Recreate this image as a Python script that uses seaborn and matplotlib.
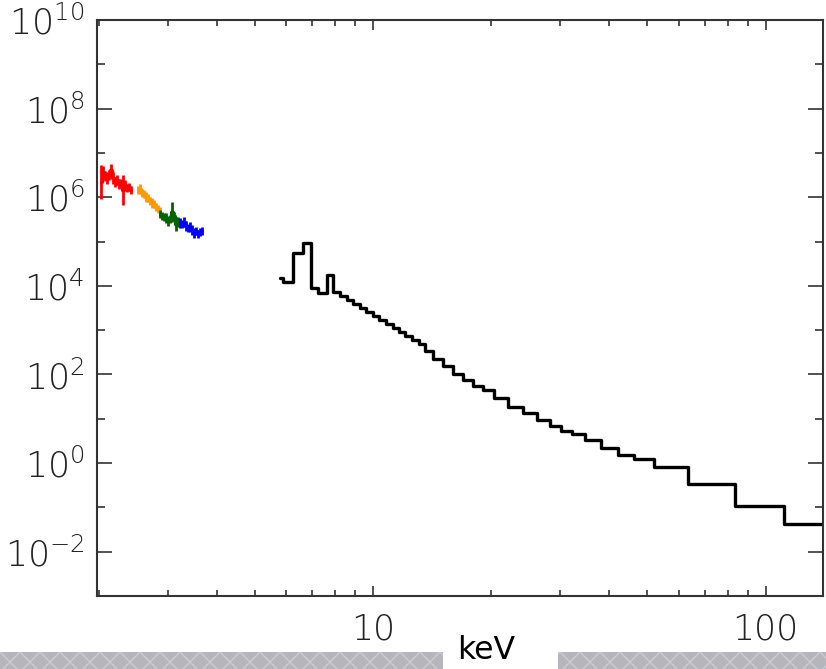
import numpy as np
import pandas as pd
import matplotlib
matplotlib.use("Agg")
import matplotlib.pyplot as plt
import seaborn as sns
from matplotlib import font_manager as fm
from matplotlib.patches import Rectangle
from matplotlib.lines import Line2D
from matplotlib.ticker import FixedLocator, FixedFormatter, NullFormatter

# ---------------- data ----------------
# model / high-energy spectrum drawn as a histogram (bin edges in keV)
hist_edges_kev = [5.79, 5.89, 6.25, 6.63, 6.95, 7.24, 7.63, 7.91, 8.24, 8.58,
                  8.89, 9.27, 9.60, 10.0, 10.36, 10.79, 11.25, 11.65, 12.07, 12.57,
                  13.10, 13.57, 14.22, 15.09, 16.00, 16.97, 17.99, 19.09, 20.36, 22.10,
                  24.14, 26.21, 28.28, 30.17, 32.19, 34.74, 38.16, 42.17, 46.33, 51.81,
                  63.24, 83.35, 111.2, 148.0]
hist_flux = [1.48e4, 1.21e4, 5.43e4, 9.14e4, 8.83e3, 6.81e3, 1.73e4, 7.18e3, 5.83e3, 4.73e3,
             3.85e3, 3.12e3, 2.54e3, 2.06e3, 1.68e3, 1.36e3, 1.11e3, 899, 731, 593,
             482, 335, 221, 154, 102, 74.3, 54.5, 44.3, 29.2, 18.3,
             13.4, 9.32, 6.83, 5.27, 4.51, 3.30, 2.18, 1.51, 1.23, 0.81,
             0.336, 0.107, 0.042]

red_kev = [2.023, 2.047, 2.071, 2.096, 2.121, 2.146, 2.171, 2.197, 2.223, 2.249,
           2.276, 2.303, 2.330, 2.357, 2.385, 2.414]
red_flux = [2.18e6, 3.66e6, 2.98e6, 2.68e6, 3.13e6, 4.06e6, 2.68e6, 2.18e6, 2.42e6, 1.96e6,
            2.07e6, 1.44e6, 1.86e6, 1.60e6, 1.68e6, 1.44e6]
red_err_dex = [0.38, 0.14, 0.11, 0.14, 0.11, 0.14, 0.14, 0.11, 0.11, 0.11,
               0.09, 0.34, 0.11, 0.09, 0.09, 0.09]

orange_kev = [2.515, 2.545, 2.575, 2.605, 2.636, 2.667, 2.698, 2.730, 2.762, 2.795, 2.828, 2.861]
orange_flux = [1.44e6, 1.51e6, 1.23e6, 1.17e6, 1.0e6, 9.49e5, 8.12e5, 7.32e5, 6.95e5, 5.95e5, 5.36e5, 4.83e5]
orange_err_dex = [0.09, 0.11, 0.09, 0.09, 0.11, 0.09, 0.09, 0.11, 0.09, 0.09, 0.09, 0.09]

green_kev = [2.861, 2.895, 2.929, 2.964, 2.999, 3.034, 3.070, 3.106, 3.143, 3.180]
green_flux = [4.14e5, 3.73e5, 3.54e5, 3.36e5, 2.88e5, 3.19e5, 4.59e5, 3.73e5, 2.46e5, 2.73e5]
green_err_dex = [0.09, 0.09, 0.09, 0.11, 0.11, 0.09, 0.22, 0.09, 0.16, 0.11]

blue_kev = [3.218, 3.256, 3.294, 3.333, 3.373, 3.412, 3.453, 3.493, 3.534, 3.576, 3.619, 3.661]
blue_flux = [2.59e5, 2.46e5, 2.73e5, 2.22e5, 2.0e5, 2.11e5, 1.80e5, 1.54e5, 1.71e5, 1.47e5, 1.62e5, 1.71e5]
blue_err_dex = [0.11, 0.09, 0.11, 0.11, 0.09, 0.11, 0.11, 0.11, 0.09, 0.09, 0.09, 0.09]

y_major = [1e-2, 1e0, 1e2, 1e4, 1e6, 1e8, 1e10]
y_major_labels = ["$10^{-2}$", "$10^{0}$", "$10^{2}$", "$10^{4}$", "$10^{6}$", "$10^{8}$", "$10^{10}$"]
y_minor = [1e-1, 1e1, 1e3, 1e5, 1e7, 1e9]
x_major = [10, 100]
x_major_labels = ["10", "100"]
x_minor = [2, 3, 4, 5, 6, 7, 8, 9, 20, 30, 40, 50, 60, 70, 80, 90]
x_label = "keV"

# ---------------- style ----------------
sns.set_theme(style="white")


def pick_light_font():
    for fam in ["DejaVu Sans", "Open Sans", "Roboto", "Lato", "Inter", "Noto Sans"]:
        best = None
        for f in fm.fontManager.ttflist:
            if f.name != fam or f.style != "normal":
                continue
            w = f.weight
            if isinstance(w, str):
                w = fm.weight_dict.get(w, 400)
            if w <= 300 and (best is None or w < best):
                best = w
        if best is not None:
            return fam, best
    return "DejaVu Sans", 400


light_fam, light_w = pick_light_font()
plt.rcParams["font.family"] = ["DejaVu Sans"]
plt.rcParams["mathtext.fontset"] = "custom"
plt.rcParams["mathtext.rm"] = f"{light_fam}:weight={light_w}"
plt.rcParams["mathtext.it"] = f"{light_fam}:weight={light_w}"
plt.rcParams["mathtext.default"] = "rm"

W, H = 826, 669
fig = plt.figure(figsize=(W / 100, H / 100), dpi=100)
fig.patch.set_facecolor("white")
ax = fig.add_axes([97 / W, 1 - 596 / H, (823 - 97) / W, (596 - 20) / H])
ax.set_facecolor("white")

# histogram (steps)
step_df = pd.DataFrame({"kev": hist_edges_kev, "flux": hist_flux + [hist_flux[-1]]})
sns.lineplot(data=step_df, x="kev", y="flux", drawstyle="steps-post", color="black",
             linewidth=2.4, estimator=None, sort=False, ax=ax, legend=False)

# low-energy spectra with error bars
for kev, flux, err, col in [(red_kev, red_flux, red_err_dex, "#ff0000"),
                            (orange_kev, orange_flux, orange_err_dex, "#ff9900"),
                            (green_kev, green_flux, green_err_dex, "#006400"),
                            (blue_kev, blue_flux, blue_err_dex, "#0000ff")]:
    df = pd.DataFrame({"kev": kev, "flux": flux, "err": err})
    sns.lineplot(data=df, x="kev", y="flux", drawstyle="steps-mid", color=col,
                 linewidth=2.3, estimator=None, sort=False, ax=ax, legend=False)
    ax.vlines(df["kev"], df["flux"] * 10 ** (-df["err"]), df["flux"] * 10 ** df["err"],
              color=col, linewidth=2.0)

ax.set_xscale("log")
ax.set_yscale("log")
ax.set_xlim(1.98, 140)
ax.set_ylim(1e-3, 1e10)
ax.set_xlabel("")
ax.set_ylabel("")

ax.yaxis.set_major_locator(FixedLocator(y_major))
ax.yaxis.set_major_formatter(FixedFormatter(y_major_labels))
ax.yaxis.set_minor_locator(FixedLocator(y_minor))
ax.yaxis.set_minor_formatter(NullFormatter())
ax.xaxis.set_major_locator(FixedLocator(x_major))
ax.xaxis.set_major_formatter(FixedFormatter(x_major_labels))
ax.xaxis.set_minor_locator(FixedLocator(x_minor))
ax.xaxis.set_minor_formatter(NullFormatter())

tick_col = "#333333"
ax.tick_params(axis="y", which="major", direction="in", length=11, width=1.2,
               left=True, right=True, color=tick_col, labelsize=25, pad=9,
               labelcolor="#222222")
ax.tick_params(axis="y", which="minor", direction="in", length=6, width=1.2,
               left=True, right=True, color=tick_col)
ax.tick_params(axis="x", which="major", direction="in", length=7.5, width=1.2,
               bottom=True, top=True, color=tick_col, labelsize=25, pad=12,
               labelcolor="#222222")
ax.tick_params(axis="x", which="minor", direction="in", length=4.5, width=1.2,
               bottom=True, top=True, color=tick_col)
for lab in ax.get_xticklabels():
    lab.set_family(light_fam)
    lab.set_weight(light_w)

for sp in ax.spines.values():
    sp.set_visible(True)
    sp.set_color(tick_col)
    sp.set_linewidth(1.5)

# slide background strip at the bottom (grey, with a faint lattice), white behind "keV"
band_h = 17 / H
segments = [(0, 443), (558, W)]
xs = np.arange(-40, W + 80, 40)
for (a, b) in segments:
    rect = Rectangle((a / W, 0), (b - a) / W, band_h, transform=fig.transFigure,
                     facecolor="#b5b5bb", edgecolor="none", zorder=0)
    fig.add_artist(rect)
    for off in (0, 20):
        zx, zy = [], []
        for x0 in xs:
            zx += [x0 + off, x0 + off + 20]
            zy += [652, 672]
        ln = Line2D(np.array(zx) / W, 1 - np.array(zy) / H, transform=fig.transFigure,
                    color="#cbcbd4", linewidth=1.0, zorder=0.5)
        fig.add_artist(ln)
        ln.set_clip_path(rect)
fig.text(486 / W, 1 - 659 / H, x_label, ha="center", va="baseline", fontsize=22.7,
         family="DejaVu Sans", color="black", zorder=2)

fig.savefig("out.png", dpi=100)
